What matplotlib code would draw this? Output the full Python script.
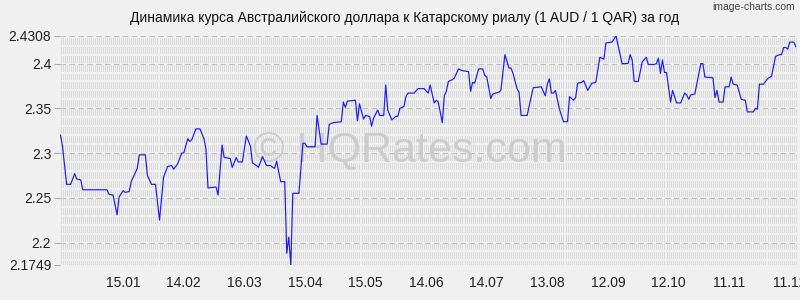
import numpy as np
import matplotlib.pyplot as plt

plt.rcParams['font.family'] = ['Liberation Sans', 'DejaVu Sans']

# day number counted from 15.01 (first x label), rate read at each visible vertex
days = [-31, -30, -28, -26, -24, -23, -21, -20, -8, -7, -5, -3, -2, 0, 1, 3, 4, 7, 8, 11,
        12, 14, 16, 18, 20, 22, 24, 25, 27, 29, 30, 32, 33, 34, 36, 38, 40, 41, 42, 46,
        47, 49, 50, 53, 54, 56, 57, 59, 61, 63, 64, 66, 67, 69, 71, 73, 74, 75, 76, 77,
        78, 80, 81, 82, 83, 84, 87, 89, 90, 91, 95, 96, 98, 101, 102, 104, 108, 109, 110, 111,
        115, 116, 117, 119, 120, 122, 123, 124, 126, 127, 129, 130, 131, 133, 135, 136, 137, 139, 140, 141,
        144, 146, 149, 151, 152, 154, 155, 156, 158, 159, 160, 161, 163, 164, 166, 168, 171, 172, 173, 174,
        176, 178, 179, 180, 182, 183, 186, 187, 189, 191, 192, 193, 195, 196, 197, 200, 203, 207, 209, 210,
        211, 212, 213, 214, 216, 218, 220, 221, 223, 224, 225, 227, 228, 230, 232, 234, 236, 237, 238, 239,
        242, 244, 246, 247, 250, 251, 252, 253, 255, 257, 259, 260, 263, 264, 265, 266, 267, 268, 269, 271,
        272, 274, 276, 278, 279, 280, 281, 283, 286, 287, 288, 292, 293, 294, 295, 297, 298, 300, 301, 302,
        304, 306, 308, 309, 312, 313, 314, 315, 317, 319, 321, 323, 325, 326, 327, 328, 329, 330, 332, 333]

rate = [2.320, 2.307, 2.265, 2.265, 2.277, 2.271, 2.270, 2.259, 2.259, 2.254, 2.253, 2.231, 2.251, 2.258, 2.256, 2.257, 2.268, 2.283, 2.298, 2.298,
        2.275, 2.265, 2.265, 2.225, 2.273, 2.285, 2.286, 2.282, 2.288, 2.300, 2.300, 2.316, 2.313, 2.315, 2.327, 2.327, 2.316, 2.304, 2.261, 2.262,
        2.253, 2.309, 2.295, 2.294, 2.284, 2.295, 2.290, 2.290, 2.319, 2.308, 2.289, 2.286, 2.284, 2.296, 2.286, 2.286, 2.284, 2.283, 2.291, 2.279,
        2.268, 2.268, 2.188, 2.206, 2.1749, 2.255, 2.255, 2.311, 2.311, 2.307, 2.307, 2.342, 2.310, 2.310, 2.332, 2.334, 2.335, 2.357, 2.351, 2.358,
        2.359, 2.336, 2.355, 2.338, 2.342, 2.341, 2.330, 2.339, 2.348, 2.342, 2.342, 2.376, 2.348, 2.337, 2.341, 2.341, 2.350, 2.352, 2.363, 2.367,
        2.367, 2.372, 2.372, 2.367, 2.376, 2.356, 2.359, 2.357, 2.334, 2.364, 2.369, 2.380, 2.382, 2.384, 2.394, 2.392, 2.391, 2.369, 2.379, 2.378,
        2.394, 2.394, 2.387, 2.385, 2.361, 2.366, 2.368, 2.370, 2.410, 2.395, 2.395, 2.389, 2.372, 2.368, 2.342, 2.342, 2.373, 2.374, 2.364, 2.377,
        2.383, 2.367, 2.367, 2.370, 2.349, 2.335, 2.335, 2.363, 2.359, 2.362, 2.378, 2.379, 2.381, 2.370, 2.378, 2.379, 2.407, 2.406, 2.405, 2.423,
        2.424, 2.4308, 2.410, 2.400, 2.400, 2.410, 2.404, 2.380, 2.380, 2.402, 2.407, 2.399, 2.399, 2.400, 2.406, 2.389, 2.404, 2.390, 2.390, 2.357,
        2.370, 2.356, 2.356, 2.367, 2.365, 2.360, 2.365, 2.366, 2.400, 2.400, 2.385, 2.384, 2.362, 2.370, 2.357, 2.357, 2.374, 2.374, 2.385, 2.377,
        2.376, 2.360, 2.359, 2.346, 2.346, 2.350, 2.349, 2.377, 2.377, 2.383, 2.386, 2.408, 2.410, 2.410, 2.418, 2.418, 2.416, 2.424, 2.424, 2.419]

x_labels = ['15.01', '14.02', '16.03', '15.04', '15.05', '14.06', '14.07',
            '13.08', '12.09', '12.10', '11.11', '11.12']
y_ticks = [2.1749, 2.2, 2.25, 2.3, 2.35, 2.4, 2.4308]
y_labels = ['2.1749', '2.2', '2.25', '2.3', '2.35', '2.4', '2.4308']

title = 'Динамика курса Австралийского доллара к Катарскому риалу (1 AUD / 1 QAR) за год'

bg = '#f0f0f0'
y_lo, y_hi = min(y_ticks), max(y_ticks)
x_lo, x_hi = -31.5, 333.5

fig = plt.figure(figsize=(8, 3), dpi=100, facecolor=bg)
ax = fig.add_axes([0.0744, 0.1167, 0.9216, 0.7633])
ax.set_facecolor(bg)

# dense daily grid, broken at every 0.01
ax.vlines(np.arange(-31, 334), y_lo, y_hi, colors='#dadada', lw=0.7, zorder=0)
for lvl in np.arange(2.18, 2.431, 0.01):
    ax.axhline(lvl, color=bg, lw=1.6, zorder=0.5)
for t in y_ticks:
    ax.axhline(t, color='#c0c0c0', lw=0.8, ls=(0, (5, 3)), zorder=1)

ax.text(0.475, 0.5, '© HQRates.com', transform=ax.transAxes, ha='center', va='center',
        fontsize=31, color='#cdcdcd', zorder=1.5)

ax.plot(days, rate, color='#1a1aff', lw=0.85, zorder=3)

ax.set_xlim(x_lo, x_hi)
ax.set_ylim(y_lo, y_hi)
ax.set_xticks(np.arange(len(x_labels)) * 30)
ax.set_xticklabels(x_labels)
ax.set_yticks(y_ticks)
ax.set_yticklabels(y_labels)
ax.tick_params(axis='x', length=0, pad=8, labelsize=10, colors='#222222')
ax.tick_params(axis='y', length=4, width=0.8, color='#a8a8a8', pad=2, labelsize=10, labelcolor='#222222')
for s in ax.spines.values():
    s.set_visible(False)

fig.text(0.506, 0.94, title, ha='center', va='center', fontsize=10, color='#111111')
fig.text(0.994, 0.975, 'image-charts.com', ha='right', va='center', fontsize=7.5, color='#444444')

fig.savefig('out.png', dpi=100, facecolor=bg)
